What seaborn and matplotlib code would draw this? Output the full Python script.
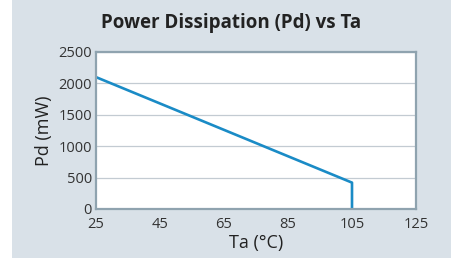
import pandas as pd
import matplotlib
matplotlib.use('Agg')
import matplotlib.pyplot as plt
import seaborn as sns
from matplotlib.patches import Rectangle

# Data
ta_values = [25, 105, 105]
pd_values = [2100, 420, 0]
x_ticks = [25, 45, 65, 85, 105, 125]
y_ticks = [0, 500, 1000, 1500, 2000, 2500]

df = pd.DataFrame({'Ta': ta_values, 'Pd': pd_values})

sns.set_style('white')
plt.rcParams['font.family'] = ['Open Sans', 'DejaVu Sans']

fig = plt.figure(figsize=(4.57, 2.58), dpi=100)
fig.patch.set_facecolor('white')

# Light panel behind the chart
panel = Rectangle((12 / 457, 0), (451 - 12) / 457, 1, transform=fig.transFigure,
                  facecolor='#d9e1e8', edgecolor='none', zorder=-5)
fig.patches.append(panel)

ax = fig.add_axes([96 / 457, 49 / 258, 320 / 457, 157 / 258])
ax.set_zorder(1)
ax.set_facecolor('white')

# estimator=None so the vertical drop at 105 is drawn as is
sns.lineplot(data=df, x='Ta', y='Pd', sort=False, estimator=None,
             color='#1a8bc6', linewidth=1.9, ax=ax)

ax.set_xlim(25, 125)
ax.set_ylim(0, 2500)
ax.set_xticks(x_ticks)
ax.set_yticks(y_ticks)
ax.grid(True, axis='y', color='#c3cbd2', linewidth=0.9)
ax.set_axisbelow(True)
for s in ax.spines.values():
    s.set_color('#8fa3af')
    s.set_linewidth(1.6)
ax.tick_params(axis='both', length=0, labelsize=10.5, colors='#333333')
ax.tick_params(axis='x', pad=6)
ax.tick_params(axis='y', pad=3)

ax.set_xlabel('Ta (°C)', fontsize=13, color='#222222', labelpad=1)
ax.set_ylabel('Pd (mW)', fontsize=13, color='#222222', labelpad=4)

fig.text(231.5 / 457, 1 - 23 / 258, 'Power Dissipation (Pd) vs Ta', ha='center', va='center',
         fontsize=13.5, fontweight='bold', color='#222222')

fig.savefig('out.png', dpi=100, facecolor=fig.get_facecolor())
